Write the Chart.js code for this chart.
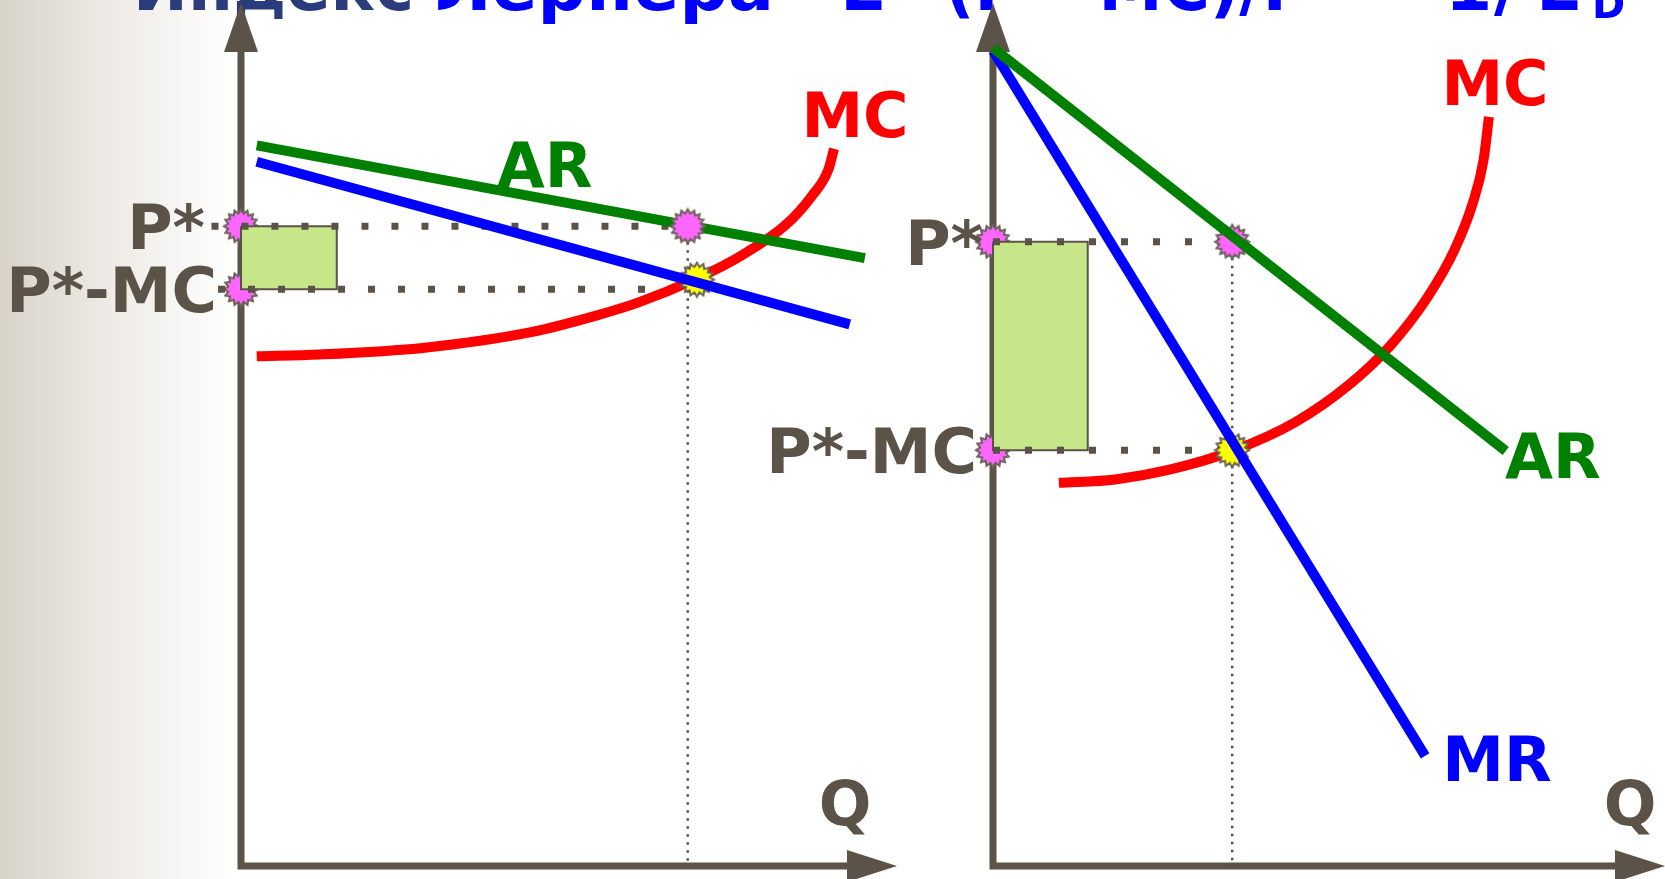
<!DOCTYPE html>
<html><head><meta charset="utf-8">
<script src="https://cdn.jsdelivr.net/npm/chart.js@4/dist/chart.umd.min.js"></script>
<style>
html,body{margin:0;padding:0;width:1665px;height:879px;overflow:hidden;
background:linear-gradient(to right,#D8D3C9 0px,#EEEBE6 110px,#FFFFFF 236px);}
canvas{position:absolute;left:0;top:0;}
</style></head><body>
<canvas id="left" width="1665" height="879"></canvas>
<canvas id="right" width="1665" height="879"></canvas>
<script>
// ---------- DATA (Q, P pairs) ----------
// Left panel: elastic demand
const leftAR = [[0.24,8.37],[9.51,7.06]];
const leftMR = [[0.24,8.18],[9.28,6.29]];
const leftMC = [[0.24,5.92],[1.19,5.94],[2.80,6.02],[4.42,6.20],[5.40,6.39],[6.04,6.54],[6.94,6.82],[7.65,7.10],[8.31,7.45],[8.70,7.78],[8.95,8.08],[9.04,8.33]];
const leftQstar = 6.81, leftPstar = 7.43, leftPMC = 6.70;
const leftMRxMC = [6.95, 6.81];
const leftRectWidth = 1.46;
// Right panel: inelastic demand
const rightAR = [[0,9.50],[7.63,4.82]];
const rightMR = [[0,9.47],[6.43,1.28]];
const rightMC = [[0.98,4.45],[1.82,4.49],[2.61,4.60],[3.56,4.82],[4.51,5.16],[5.30,5.59],[5.92,6.05],[6.47,6.61],[6.87,7.16],[7.14,7.70],[7.30,8.20],[7.38,8.70]];
const rightQstar = 3.56, rightPstar = 7.25, rightPMC = 4.83;
const rightMRxMC = [3.56, 4.83];
const rightRectWidth = 1.41;
// Text
const titleParts = ['Индекс','Лернера','L','=','(P – MC)/P','=','–','1','/','E','D'];
const curveNames = ['AR','MR','MC'];
const axisNames = ['P*','P*-MC','Q'];

// ---------- STYLE ----------
const AXIS='#5B5248', GREEN='#008000', BLUE='#0000FF', RED='#FF0000', RECT='#C5E689';
const FONT='"DejaVu Sans", Verdana, sans-serif';
const pts = a => a.map(([x,y]) => ({x, y}));

function burst(fill){
  const R=17, r=13, n=16, c=document.createElement('canvas');
  c.width=c.height=2*R+4;
  const g=c.getContext('2d'); g.translate(R+2,R+2); g.beginPath();
  for(let i=0;i<2*n;i++){const rad=i%2?r:R, a=Math.PI*i/n-Math.PI/2; g.lineTo(rad*Math.cos(a),rad*Math.sin(a));}
  g.closePath(); g.fillStyle=fill; g.fill(); g.lineWidth=2; g.strokeStyle='#6B6259'; g.stroke();
  return c;
}
const MAG=burst('#FF66FF'), YEL=burst('#FFFF00');

function curve(data,color,order,smooth){
  return {data:pts(data),showLine:true,borderColor:color,borderWidth:10,pointRadius:0,
    cubicInterpolationMode: smooth?'monotone':'default',tension:0,order,clip:false,fill:false};
}
function dots(data,dash,w,order){
  return {data:pts(data),showLine:true,borderColor:AXIS,borderWidth:w,borderDash:dash,pointRadius:0,order,clip:false,fill:false};
}
function markers(data,img,order){
  return {data:pts(data),showLine:false,pointStyle:img,pointRadius:17,order,clip:false};
}
function rect(p,pmc,w,order){
  return {data:pts([[0,p],[w,p],[w,pmc],[0,pmc],[0,p]]),showLine:true,borderColor:AXIS,borderWidth:2,
    backgroundColor:RECT,fill:'shape',pointRadius:0,order,clip:false,tension:0};
}

function axesPlugin(withTitle){
  return {id:'axes',beforeDatasetsDraw(chart){
    const ctx=chart.ctx, xs=chart.scales.x, ys=chart.scales.y;
    const x0=xs.getPixelForValue(0), y0=ys.getPixelForValue(0), xe=xs.right, ye=ys.top-2;
    ctx.save();
    if(withTitle){
      const f=(t,x,col,size,y,mw)=>{ctx.font=`bold ${size}px ${FONT}`;ctx.fillStyle=col;ctx.textAlign='left';ctx.textBaseline='alphabetic';
        if(mw) ctx.fillText(t,x,y,mw); else ctx.fillText(t,x,y);};
      f(titleParts[0],133,'#2B3C7C',68,10,281);
      f(titleParts[1],435,BLUE,68,10,356);
      f(titleParts[2],840,BLUE,68,10);
      f(titleParts[3],885,BLUE,68,10);
      f(titleParts[4],945,BLUE,68,10,365);
      f(titleParts[5],1320,BLUE,68,10);
      f(titleParts[6],1395,BLUE,68,10);
      f(titleParts[7],1445,BLUE,68,10);
      f(titleParts[8],1494,BLUE,68,10);
      f(titleParts[9],1536,BLUE,68,10);
      f(titleParts[10],1592,BLUE,40,18);
    }
    ctx.strokeStyle=AXIS; ctx.fillStyle=AXIS; ctx.lineWidth=7; ctx.lineCap='butt';
    ctx.beginPath(); ctx.moveTo(x0,y0+3.5); ctx.lineTo(x0,ye+40);
    ctx.moveTo(x0-3.5,y0); ctx.lineTo(xe-40,y0); ctx.stroke();
    ctx.beginPath(); ctx.moveTo(x0,ye); ctx.lineTo(x0-17,ye+49); ctx.lineTo(x0+17,ye+49); ctx.closePath(); ctx.fill();
    ctx.beginPath(); ctx.moveTo(xe,y0); ctx.lineTo(xe-50,y0-16); ctx.lineTo(xe-50,y0+16); ctx.closePath(); ctx.fill();
    ctx.restore();
  }};
}
function labelsPlugin(items){
  return {id:'labels',afterDatasetsDraw(chart){
    const ctx=chart.ctx, xs=chart.scales.x, ys=chart.scales.y;
    ctx.save();
    for(const it of items){
      ctx.font=`bold ${it.size||62}px ${FONT}`; ctx.fillStyle=it.color; ctx.textAlign=it.align||'center'; ctx.textBaseline='alphabetic';
      const px = it.axisOffset!=null ? xs.getPixelForValue(0)+it.axisOffset : xs.getPixelForValue(it.x);
      const py = ys.getPixelForValue(it.y)+(it.dy||0);
      ctx.fillText(it.text,px,py);
    }
    ctx.restore();
  }};
}
function make(id,datasets,padding,plugins){
  return new Chart(document.getElementById(id),{
    type:'scatter',data:{datasets},
    options:{responsive:false,animation:false,devicePixelRatio:1,
      layout:{padding,autoPadding:false},
      scales:{x:{type:'linear',min:0,max:10,display:false},y:{type:'linear',min:0,max:10,display:false}},
      plugins:{legend:{display:false},tooltip:{enabled:false},title:{display:false}},
      events:[]},
    plugins});
}

// Left chart
make('left',[
  markers([[0,leftPstar],[0,leftPMC]],MAG,11),
  rect(leftPstar,leftPMC,leftRectWidth,10),
  dots([[-0.45,leftPstar],[leftQstar,leftPstar]],[7,23],7,9),
  dots([[-0.35,leftPMC],[leftQstar,leftPMC]],[7,23],7,9),
  dots([[leftQstar,leftPstar],[leftQstar,0]],[2.5,5.5],2.5,9),
  curve(leftMC,RED,5,true),
  curve(leftAR,GREEN,4,false),
  markers([[leftQstar,leftPstar]],MAG,3),
  markers([leftMRxMC],YEL,2),
  curve(leftMR,BLUE,1,false)
],{left:241,right:1665-897,top:5,bottom:13},[
  axesPlugin(true),
  labelsPlugin([
    {text:axisNames[0],y:leftPstar,axisOffset:-36,align:'right',dy:23,color:AXIS},
    {text:axisNames[1],y:leftPMC,axisOffset:-24,align:'right',dy:23,color:AXIS},
    {text:curveNames[0],x:4.63,y:7.89,color:GREEN},
    {text:curveNames[2],x:9.36,y:8.47,color:RED},
    {text:axisNames[2],x:9.21,y:0.48,color:AXIS}
  ])
]);

// Right chart
make('right',[
  markers([[0,rightPstar],[0,rightPMC]],MAG,11),
  rect(rightPstar,rightPMC,rightRectWidth,10),
  dots([[0,rightPstar],[rightQstar,rightPstar]],[7,25],7,9),
  dots([[0,rightPMC],[rightQstar,rightPMC]],[7,25],7,9),
  dots([[rightQstar,rightPstar],[rightQstar,0]],[2.5,5.5],2.5,9),
  curve(rightMC,RED,5,true),
  markers([[rightQstar,rightPstar]],MAG,3),
  markers([rightMRxMC],YEL,2.5),
  curve(rightMR,BLUE,2,false),
  curve(rightAR,GREEN,1,false)
],{left:993,right:0,top:5,bottom:13},[
  axesPlugin(false),
  labelsPlugin([
    {text:axisNames[0],y:rightPstar,axisOffset:-10,align:'right',dy:23,color:AXIS},
    {text:axisNames[1],y:rightPMC,axisOffset:-16,align:'right',dy:23,color:AXIS},
    {text:curveNames[2],x:7.47,y:8.84,color:RED},
    {text:curveNames[0],x:8.33,y:4.51,color:GREEN},
    {text:curveNames[1],x:7.50,y:0.99,color:BLUE},
    {text:axisNames[2],x:9.48,y:0.48,color:AXIS}
  ])
]);
</script>
</body></html>
